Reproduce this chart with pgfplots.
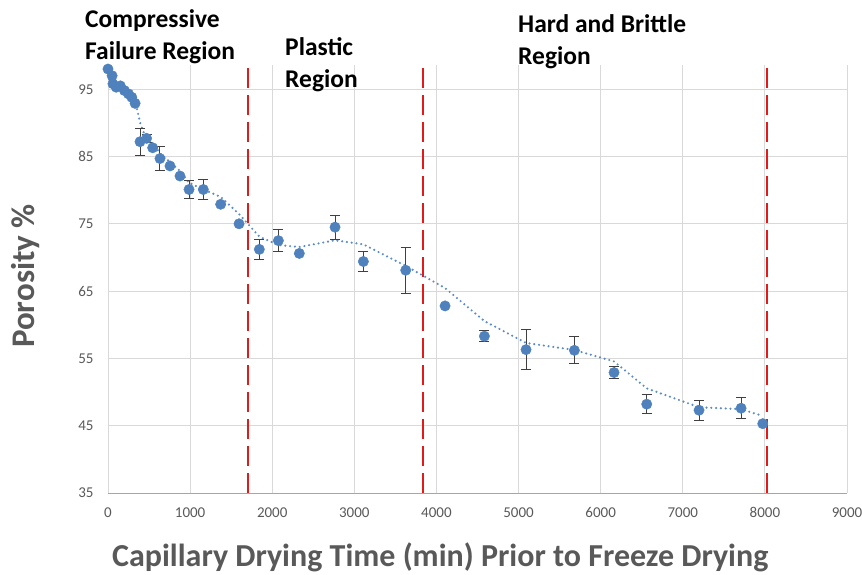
\documentclass[border=0pt]{standalone}
\usepackage{pgfplots}
\usepackage{pgfplotstable}
\pgfplotsset{compat=1.18}
\usepackage{fontspec}
\setmainfont{Carlito}

\definecolor{ptblue}{HTML}{4F81BD}
\definecolor{trendblue}{HTML}{5B8CC8}
\definecolor{errgray}{HTML}{404040}
\definecolor{gridgray}{HTML}{D9D9D9}
\definecolor{labgray}{HTML}{595959}
\definecolor{regred}{HTML}{E21A1A}

% drying time (min), porosity (%), error
\pgfplotstableread{
x     y     e
0     98.0  0
50    97.0  0
60    95.8  0
100   95.3  0
150   95.5  0
200   94.8  0
250   94.3  0
290   93.8  0
330   92.9  0
390   87.2  2.0
470   87.7  0.6
544   86.3  0
633   84.7  1.8
755   83.6  0
877   82.1  0
987   80.1  1.3
1161  80.1  1.5
1372  77.9  0
1596  75.0  0
1843  71.2  1.5
2075  72.5  1.6
2330  70.6  0
2765  74.5  1.8
3110  69.4  1.5
3626  68.1  3.4
4105  62.8  0
4584  58.3  0.8
5091  56.3  3.0
5680  56.2  2.0
6163  52.9  0.9
6561  48.2  1.4
7198  47.3  1.5
7710  47.6  1.6
7974  45.3  0
}\porosity

% two-point moving average of the porosity
\pgfplotstableread{
x     y
50    97.50
60    96.40
100   95.55
150   95.40
200   95.15
250   94.55
290   94.05
330   93.35
390   90.05
470   87.45
544   87.00
633   85.50
755   84.15
877   82.85
987   81.10
1161  80.10
1372  79.00
1596  76.45
1843  73.10
2075  71.85
2330  71.55
2765  72.55
3110  71.95
3626  68.75
4105  65.45
4584  60.55
5091  57.30
5680  56.25
6163  54.55
6561  50.55
7198  47.75
7710  47.45
7974  46.45
}\movavg

\begin{document}
\begin{tikzpicture}
\begin{axis}[
  at={(0pt,0pt)}, anchor=south west,
  width=739pt, height=428pt, scale only axis,
  xmin=0, xmax=9000, ymin=35, ymax=98.6,
  xtick={0,1000,...,9000}, ytick={35,45,...,95},
  grid=major, major grid style={gridgray, line width=0.8pt},
  axis line style={draw=none},
  tick style={draw=none},
  /pgf/number format/assume math mode=true,
  scaled x ticks=false,
  xticklabel style={/pgf/number format/1000 sep={}, font=\fontsize{15}{17}\selectfont, text=labgray, anchor=north, yshift=-11pt},
  yticklabel style={font=\fontsize{15}{17}\selectfont, text=labgray, anchor=east, xshift=-11pt},
  clip=false,
]
% bottom axis line
\draw[gray!70, line width=0.9pt] (axis cs:0,35) -- (axis cs:9000,35);

% region boundaries
\addplot[regred, line width=2.6pt, dash pattern=on 20pt off 7pt] coordinates {(1705,35) (1705,98.6)};
\addplot[regred, line width=2.6pt, dash pattern=on 20pt off 7pt] coordinates {(3837,35) (3837,98.6)};
\addplot[regred, line width=2.6pt, dash pattern=on 20pt off 7pt] coordinates {(8027,35) (8027,98.6)};

% moving-average trend
\addplot[trendblue, line width=2.4pt, line cap=round, dash pattern=on 0pt off 4.8pt] table[x=x, y=y] {\movavg};

% measurements with error bars
\addplot[only marks, mark=*, mark size=5.2pt, mark options={fill=ptblue, draw=ptblue},
  error bars/.cd, y dir=both, y explicit,
  error bar style={errgray, line width=1pt},
  error mark options={rotate=90, mark size=5pt, errgray, line width=1pt}]
  table[x=x, y=y, y error=e] {\porosity};
\end{axis}

% region names
\begin{scope}[every node/.style={inner sep=0pt, anchor=base west, font=\fontsize{25.5}{30}\selectfont\bfseries}]
\node at (-23pt,465pt) {Compressive};
\node at (-23pt,433pt) {Failure Region};
\node at (177pt,437pt) {Plastic};
\node at (177pt,405pt) {Region};
\node at (410pt,460pt) {Hard and Brittle};
\node at (410pt,428pt) {Region};
\end{scope}

% axis titles
\node[inner sep=0pt, anchor=base west, text=labgray, font=\fontsize{32}{36}\selectfont\bfseries] at (4pt,-74pt) {Capillary Drying Time (min) Prior to Freeze Drying};
\node[inner sep=0pt, anchor=base west, rotate=90, text=labgray, font=\fontsize{33}{36}\selectfont\bfseries] at (-73pt,145pt) {Porosity \%};

\pgfresetboundingbox
\path (-108pt,-82pt) rectangle (754pt,493pt);
\end{tikzpicture}
\end{document}
